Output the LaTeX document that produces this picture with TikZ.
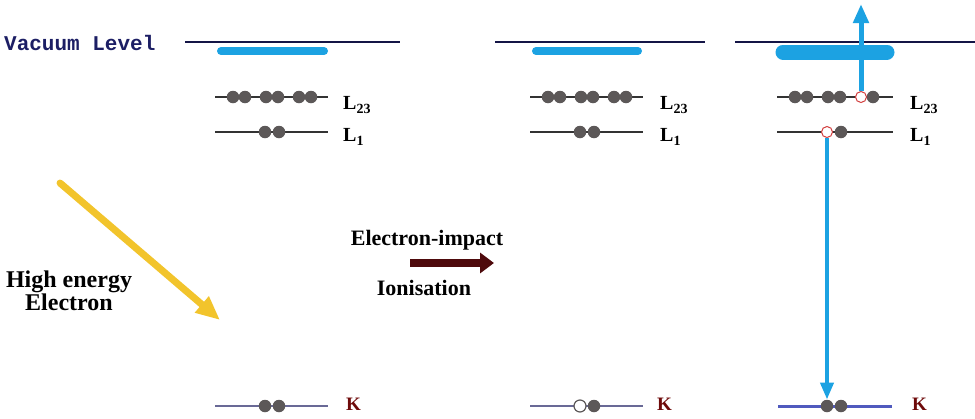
\documentclass[tikz,border=0pt]{standalone}
\usepackage{fontspec}
\setmainfont{Liberation Serif}
\newfontfamily\vacfont{Liberation Mono}
\usepackage{xcolor}
\usetikzlibrary{arrows.meta}

\definecolor{vacblue}{RGB}{28,30,100}
\definecolor{bandblue}{RGB}{28,162,226}
\definecolor{elyellow}{RGB}{242,196,44}
\definecolor{impactred}{RGB}{78,10,12}
\definecolor{dotgrey}{RGB}{92,88,88}
\definecolor{holered}{RGB}{210,60,60}
\definecolor{kred}{RGB}{110,10,10}
\definecolor{kline}{RGB}{105,105,150}
\definecolor{kblue}{RGB}{80,90,190}

\tikzset{
  level/.style={line width=1.4pt, black!80},
  vacline/.style={line width=1.4pt, vacblue!70!black},
  kbase/.style={line width=1.6pt, kline},
  band/.style={line width=8pt, bandblue, line cap=round},
  edot/.style={circle, fill=dotgrey, minimum size=12.5pt, inner sep=0pt},
  ehole/.style={circle, draw=holered, fill=white, line width=1pt, minimum size=11pt, inner sep=0pt},
  khole/.style={circle, draw=dotgrey, fill=white, line width=1.2pt, minimum size=12pt, inner sep=0pt},
  lvllabel/.style={anchor=west, inner sep=0pt, font=\bfseries\fontsize{20}{20}\selectfont},
  klabel/.style={anchor=west, inner sep=0pt, font=\bfseries\fontsize{19}{19}\selectfont, kred},
  caption/.style={font=\bfseries\fontsize{22}{22}\selectfont, align=center, inner sep=0pt},
}

\begin{document}
\begin{tikzpicture}[x=1pt, y=-1pt]
    \useasboundingbox (0,0) rectangle (975,418);

    % Vacuum level
    \node[anchor=west, inner sep=0pt, font=\vacfont\bfseries\fontsize{21}{21}\selectfont, vacblue] (vaclbl) at (4,43) {Vacuum Level};
    \draw[vacline] (185,42) -- (400,42);
    \draw[vacline] (495,42) -- (705,42);
    \draw[vacline] (735,42) -- (975,42);
    \draw[band] (221,51) -- (324,51);
    \draw[band] (536,51) -- (638,51);
    \draw[band, line width=15pt] (783,52) -- (887,52);

    % Before impact
    \draw[level] (215,97) -- (328,97);
    \draw[level] (215,132) -- (328,132);
    \draw[kbase] (215,406) -- (328,406);
    \node[edot] (a23a) at (233,97) {};
    \node[edot] (a23b) at (245,97) {};
    \node[edot] (a23c) at (266,97) {};
    \node[edot] (a23d) at (278,97) {};
    \node[edot] (a23e) at (299,97) {};
    \node[edot] (a23f) at (311,97) {};
    \node[edot] (a1a) at (265,132) {};
    \node[edot] (a1b) at (279,132) {};
    \node[edot] (aka) at (265,406) {};
    \node[edot] (akb) at (279,406) {};
    \node[lvllabel] (alab23) at (343,105) {L\textsubscript{23}};
    \node[lvllabel] (alab1) at (343,137) {L\textsubscript{1}};
    \node[klabel] (alabk) at (346,404) {K};

    % Incoming electron
    \coordinate (ein) at (60,183);
    \coordinate (eout) at (220,320);
    \draw[elyellow, line width=7pt, line cap=round, -{Triangle[length=24pt,width=20pt]}] (ein) -- (eout);
    \node[caption, font=\bfseries\fontsize{24}{23}\selectfont] (hiel) at (69,291) {High energy\\Electron};

    % Ionisation step
    \node[caption] (imptop) at (427,240) {Electron-impact};
    \coordinate (istart) at (410,263);
    \coordinate (iend) at (494,263);
    \draw[impactred, line width=8pt, -{Triangle[length=14pt,width=20pt]}] (istart) -- (iend);
    \node[caption] (impbot) at (424,288) {Ionisation};

    % K hole
    \draw[level] (530,97) -- (643,97);
    \draw[level] (530,132) -- (643,132);
    \draw[kbase] (530,406) -- (643,406);
    \node[edot] (b23a) at (548,97) {};
    \node[edot] (b23b) at (560,97) {};
    \node[edot] (b23c) at (581,97) {};
    \node[edot] (b23d) at (593,97) {};
    \node[edot] (b23e) at (614,97) {};
    \node[edot] (b23f) at (626,97) {};
    \node[edot] (b1a) at (580,132) {};
    \node[edot] (b1b) at (594,132) {};
    \node[khole] (bka) at (580,406) {};
    \node[edot] (bkb) at (594,406) {};
    \node[lvllabel] (blab23) at (660,105) {L\textsubscript{23}};
    \node[lvllabel] (blab1) at (660,137) {L\textsubscript{1}};
    \node[klabel] (blabk) at (657,404) {K};

    % Relaxation and Auger emission
    \draw[level] (777,97) -- (893,97);
    \draw[level] (777,132) -- (893,132);
    \draw[line width=3pt, kblue] (778,406) -- (892,406);
    \node[edot] (c23a) at (795,97) {};
    \node[edot] (c23b) at (807,97) {};
    \node[edot] (c23c) at (828,97) {};
    \node[edot] (c23d) at (840,97) {};
    \node[ehole] (c23h) at (861,97) {};
    \node[edot] (c23f) at (873,97) {};
    \node[ehole] (c1h) at (827,132) {};
    \node[edot] (c1b) at (841,132) {};
    \node[edot] (cka) at (827,406) {};
    \node[edot] (ckb) at (841,406) {};
    \node[lvllabel] (clab23) at (910,105) {L\textsubscript{23}};
    \node[lvllabel] (clab1) at (910,137) {L\textsubscript{1}};
    \node[klabel] (clabk) at (912,404) {K};

    \coordinate (augerout) at (861,4);
    \draw[bandblue, line width=5pt, -{Triangle[length=19pt,width=15pt]}] (c23h.north) -- (augerout);
    \draw[bandblue, line width=4pt, -{Triangle[length=17pt,width=13pt]}] (c1h.south) -- (cka.north);
\end{tikzpicture}
\end{document}
